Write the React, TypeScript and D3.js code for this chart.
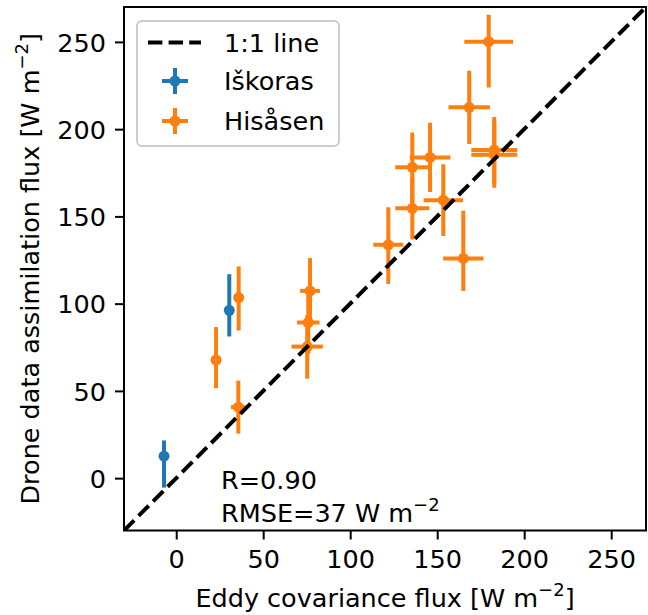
import * as d3 from "d3";
import { useEffect, useRef } from "react";

// Iškoras site
const iskorasX = [-7.0, 30.5];
const iskorasY = [12.6, 96.2];
const iskorasXErr = [0, 0];
const iskorasYErrLow = [18, 15];
const iskorasYErrHigh = [9, 20.7];

// Hisåsen site
const hisasenX = [22.9, 35.9, 35.7, 76.9, 75.9, 75.3, 121.9, 135.7, 135.7, 145.9, 153.5, 165.0, 168.4, 179.6, 182.8, 182.8];
const hisasenY = [67.7, 103.5, 40.7, 107.3, 89.2, 75.4, 133.7, 154.6, 178.1, 183.8, 159.3, 125.9, 212.5, 250.1, 188.0, 185.4];
const hisasenXErr = [0, 0, 4.2, 5.7, 6.5, 9, 8.6, 9.8, 9.8, 11.7, 11.3, 11.6, 11.9, 14, 13.2, 13.2];
const hisasenYErrLow = [16.2, 18.9, 15.2, 18, 18, 18.4, 22.4, 17.8, 20, 19.8, 20.6, 18.6, 21, 26.2, 19, 19];
const hisasenYErrHigh = [18.9, 17.8, 15.2, 18.8, 18, 18, 21.6, 18, 20, 19.8, 20.6, 27.3, 21, 15.5, 19, 19];

const axisLimits = [-30, 270];
const tickValues = [0, 50, 100, 150, 200, 250];
const legendLabels = ["1:1 line", "Iškoras", "Hisåsen"];
const statsR = "R=0.90";
const statsRmse = "RMSE=37 W m";

const BLUE = "#1f77b4";
const ORANGE = "#ff7f0e";
const FONT = "DejaVu Sans, sans-serif";
const FS = 25.5;

export default function App() {
  const ref = useRef<SVGSVGElement>(null);

  useEffect(() => {
    const svg = d3.select(ref.current);
    svg.selectAll("*").remove();

    const W = 648;
    const H = 615;
    const margin = { top: 7, right: 2, bottom: 84.5, left: 124 };
    const width = W - margin.left - margin.right;
    const height = H - margin.top - margin.bottom;

    const x = d3.scaleLinear().domain(axisLimits).range([0, width]);
    const y = d3.scaleLinear().domain(axisLimits).range([height, 0]);

    const g = svg
      .append("g")
      .attr("transform", `translate(${margin.left},${margin.top})`);

    svg
      .append("defs")
      .append("clipPath")
      .attr("id", "plotclip")
      .append("rect")
      .attr("width", width)
      .attr("height", height);

    // axes
    const xAxis = d3
      .axisBottom(x)
      .tickValues(tickValues)
      .tickSizeInner(9)
      .tickSizeOuter(0)
      .tickPadding(9);
    const yAxis = d3
      .axisLeft(y)
      .tickValues(tickValues)
      .tickSizeInner(9)
      .tickSizeOuter(0)
      .tickPadding(9);
    const gx = g.append("g").attr("transform", `translate(0,${height})`).call(xAxis);
    const gy = g.append("g").call(yAxis);
    [gx, gy].forEach((ax) => {
      ax.select(".domain").remove();
      ax.selectAll("line").attr("stroke", "black").attr("stroke-width", 2);
      ax.selectAll("text")
        .attr("font-family", FONT)
        .attr("font-size", FS)
        .attr("fill", "black");
    });
    gx.selectAll("text").attr("dy", "0.78em");
    gy.selectAll("text").attr("dy", "0.36em");

    const plot = g.append("g").attr("clip-path", "url(#plotclip)");

    // error bars + markers
    const drawSeries = (
      xs: number[],
      ys: number[],
      xe: number[],
      yLo: number[],
      yHi: number[],
      color: string
    ) => {
      const s = plot.append("g");
      xs.forEach((xv, i) => {
        s.append("line")
          .attr("x1", x(xv))
          .attr("x2", x(xv))
          .attr("y1", y(ys[i] - yLo[i]))
          .attr("y2", y(ys[i] + yHi[i]))
          .attr("stroke", color)
          .attr("stroke-width", 4);
        if (xe[i] > 0) {
          s.append("line")
            .attr("x1", x(xv - xe[i]))
            .attr("x2", x(xv + xe[i]))
            .attr("y1", y(ys[i]))
            .attr("y2", y(ys[i]))
            .attr("stroke", color)
            .attr("stroke-width", 4);
        }
      });
      s.selectAll("circle")
        .data(xs)
        .enter()
        .append("circle")
        .attr("cx", (d) => x(d))
        .attr("cy", (_, i) => y(ys[i]))
        .attr("r", 5.5)
        .attr("fill", color);
    };
    drawSeries(iskorasX, iskorasY, iskorasXErr, iskorasYErrLow, iskorasYErrHigh, BLUE);
    drawSeries(hisasenX, hisasenY, hisasenXErr, hisasenYErrLow, hisasenYErrHigh, ORANGE);

    // 1:1 line
    plot
      .append("line")
      .attr("x1", x(axisLimits[0]))
      .attr("y1", y(axisLimits[0]))
      .attr("x2", x(axisLimits[1]))
      .attr("y2", y(axisLimits[1]))
      .attr("stroke", "black")
      .attr("stroke-width", 4)
      .attr("stroke-dasharray", "14.4,6.2");

    // frame
    g.append("rect")
      .attr("width", width)
      .attr("height", height)
      .attr("fill", "none")
      .attr("stroke", "black")
      .attr("stroke-width", 2);

    // stats text
    const stats = g
      .append("text")
      .attr("font-family", FONT)
      .attr("font-size", FS)
      .attr("x", 97)
      .attr("y", 482);
    stats.append("tspan").text(statsR);
    const rm = g
      .append("text")
      .attr("font-family", FONT)
      .attr("font-size", FS)
      .attr("x", 97)
      .attr("y", 515);
    rm.append("tspan").text(statsRmse);
    rm.append("tspan").attr("font-size", 18).attr("dy", -11).text("−2");

    // legend
    const lg = g.append("g").attr("transform", "translate(13,14)");
    lg.append("rect")
      .attr("width", 202)
      .attr("height", 125)
      .attr("rx", 5)
      .attr("fill", "white")
      .attr("fill-opacity", 0.8)
      .attr("stroke", "#cccccc")
      .attr("stroke-width", 2);
    const rowY = [21.5, 60, 100];
    lg.append("line")
      .attr("x1", 11)
      .attr("x2", 64)
      .attr("y1", rowY[0])
      .attr("y2", rowY[0])
      .attr("stroke", "black")
      .attr("stroke-width", 4)
      .attr("stroke-dasharray", "14.4,6.2");
    [BLUE, ORANGE].forEach((c, i) => {
      const cy = rowY[i + 1];
      lg.append("line")
        .attr("x1", 38)
        .attr("x2", 38)
        .attr("y1", cy - 13)
        .attr("y2", cy + 13)
        .attr("stroke", c)
        .attr("stroke-width", 4);
      lg.append("line")
        .attr("x1", 25)
        .attr("x2", 51)
        .attr("y1", cy)
        .attr("y2", cy)
        .attr("stroke", c)
        .attr("stroke-width", 4);
      lg.append("circle").attr("cx", 38).attr("cy", cy).attr("r", 5.5).attr("fill", c);
    });
    lg.selectAll("text.lab")
      .data(legendLabels)
      .enter()
      .append("text")
      .attr("class", "lab")
      .attr("x", 87)
      .attr("y", (_, i) => rowY[i] + 9.3)
      .attr("font-family", FONT)
      .attr("font-size", FS)
      .text((d) => d);

    // axis labels
    const xl = svg
      .append("text")
      .attr("font-family", FONT)
      .attr("font-size", FS)
      .attr("text-anchor", "middle")
      .attr("x", margin.left + width / 2)
      .attr("y", 607);
    xl.append("tspan").text("Eddy covariance flux [W m");
    xl.append("tspan").attr("font-size", 18).attr("dy", -11).text("−2");
    xl.append("tspan").attr("dy", 11).text("]");

    const yl = svg
      .append("text")
      .attr("font-family", FONT)
      .attr("font-size", FS)
      .attr("text-anchor", "middle")
      .attr("transform", `translate(39,${margin.top + height / 2}) rotate(-90)`);
    yl.append("tspan").text("Drone data assimilation flux [W m");
    yl.append("tspan").attr("font-size", 18).attr("dy", -11).text("−2");
    yl.append("tspan").attr("dy", 11).text("]");
  }, []);

  return (
    <svg
      ref={ref}
      width={648}
      height={615}
      style={{ position: "absolute", left: 0, top: 0, background: "white" }}
    />
  );
}
